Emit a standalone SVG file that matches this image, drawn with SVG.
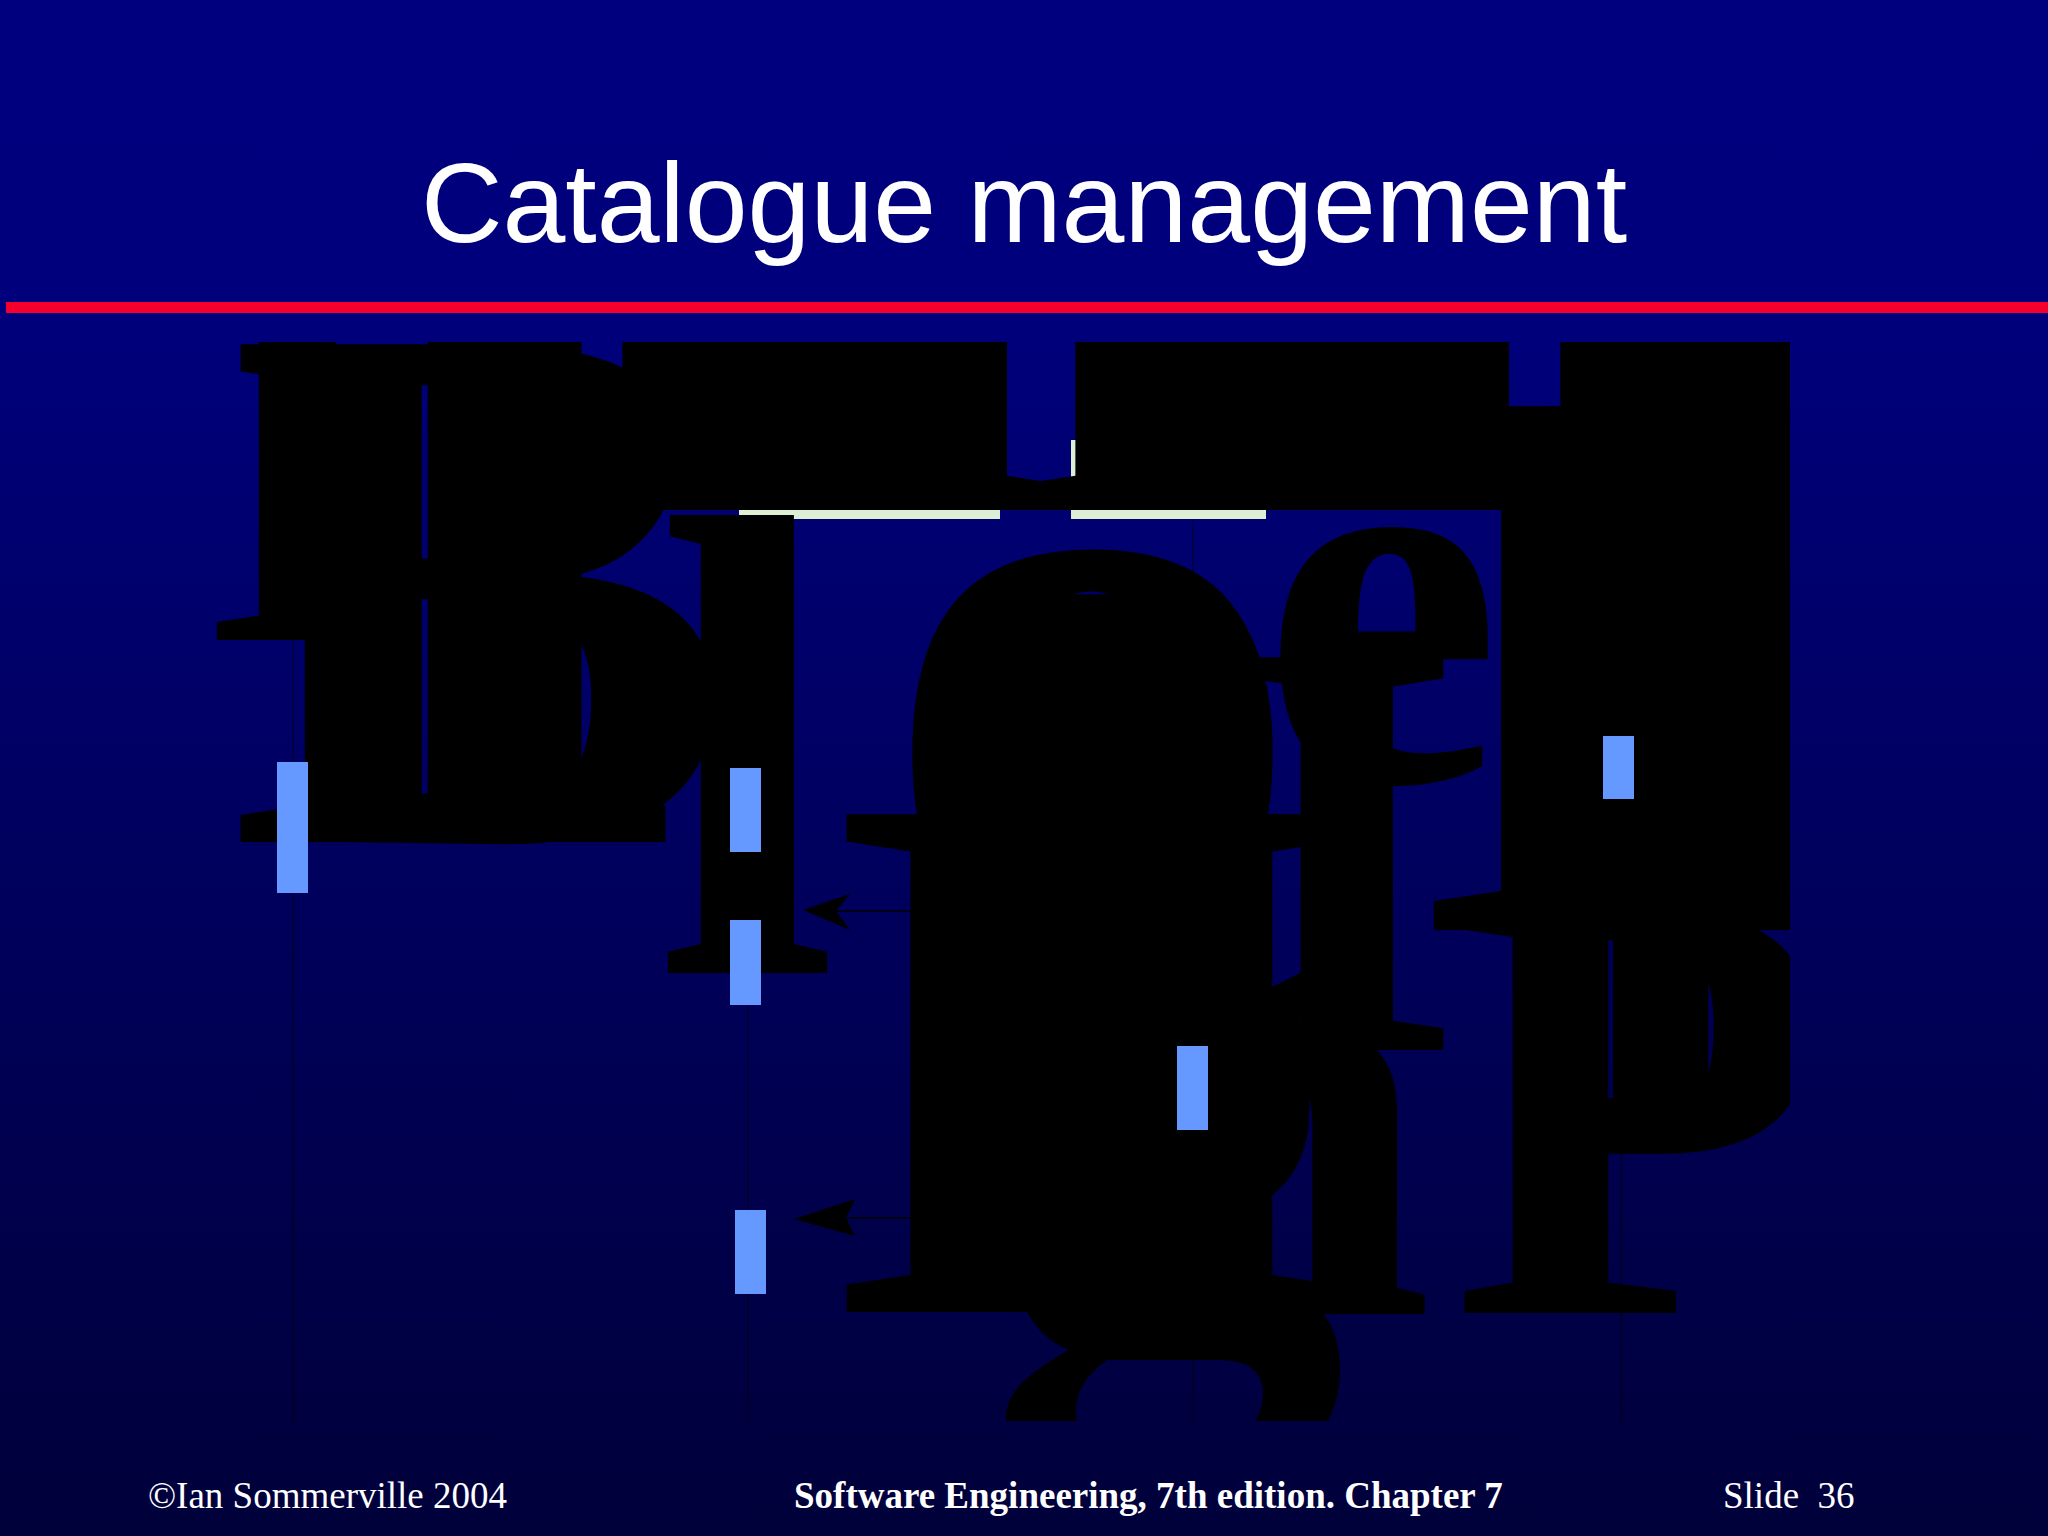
<svg xmlns="http://www.w3.org/2000/svg" width="2048" height="1536" viewBox="0 0 2048 1536">
<defs>
<linearGradient id="bg" x1="0" y1="0" x2="0" y2="1">
<stop offset="0" stop-color="#00007F"/>
<stop offset="0.2" stop-color="#00007C"/>
<stop offset="1" stop-color="#00003A"/>
</linearGradient>
<clipPath id="area"><rect x="215" y="342" width="1575" height="1079"/></clipPath>
<style>
.title{font-family:"Liberation Sans",Arial,sans-serif;font-size:113px;fill:#fff}
.foot{font-family:"Liberation Serif","Times New Roman",serif;font-size:37px;fill:#fff}
.big{font-family:"Liberation Serif","Times New Roman",serif;font-weight:bold;fill:#000}
.bar{fill:#6699FF}
.obj{fill:#DDF0D6}
.life{stroke:#000;stroke-width:1;fill:none;opacity:0.7}
.msg{stroke:#000;stroke-width:1.5;fill:none}
.head{fill:#000}
</style>
</defs>
<rect width="2048" height="1536" fill="url(#bg)"/>
<g id="title"><text class="title" x="1024" y="242" text-anchor="middle">Catalogue management</text></g>
<rect id="rule" x="6" y="302" width="2042" height="11" fill="#F5002E"/>
<g id="objects">
<rect id="obj1" class="obj" x="739" y="440" width="261" height="79"/>
<rect id="obj2" class="obj" x="1071" y="440" width="195" height="79"/>
</g>
<g id="lifelines">
<line class="life" x1="293" y1="520" x2="293" y2="1421"/>
<line class="life" x1="748" y1="520" x2="748" y2="1421"/>
<line class="life" x1="1193" y1="520" x2="1193" y2="1421"/>
<line class="life" x1="1621" y1="520" x2="1621" y2="1421"/>
</g>
<g id="labels" clip-path="url(#area)">
<text class="big" x="200" y="640" font-size="500">I</text>
<text class="big" x="228" y="842" font-size="760">B</text>
<text class="big" x="310" y="842" font-size="1000">I</text>
<text class="big" x="655" y="973" font-size="660">l</text>
<text class="big" y="510" font-size="700" x="540 623 720 817 993 1090 1187 1284 1319 1478 1575 1672">IIIIIIIIIIII</text>
<text class="big" x="880" y="950" font-size="850">o</text>
<text class="big" y="935" font-size="520" x="960 1030">II</text>
<text class="big" y="1312" font-size="760" x="821 916 1011 1066">IIII</text>
<text class="big" x="987" y="1335" font-size="720">g</text>
<text class="big" x="1262" y="781" font-size="540">e</text>
<text class="big" x="1230" y="1050" font-size="600">I</text>
<text class="big" y="930" font-size="800" x="1407 1520 1600">III</text>
<text class="big" x="1100" y="1314" font-size="600">n</text>
<text class="big" x="1450" y="1313" font-size="620">P</text>
<text class="big" x="1540" y="1128" font-size="620">I</text>
</g>
<g id="activations">
<rect class="bar" x="1603" y="736" width="31" height="63"/>
<rect class="bar" x="277" y="762" width="31" height="131"/>
<rect class="bar" x="730" y="768" width="31" height="84"/>
<rect class="bar" x="730" y="920" width="31" height="85"/>
<rect class="bar" x="735" y="1210" width="31" height="84"/>
<rect class="bar" x="1177" y="1046" width="31" height="84"/>
</g>
<g id="connectors">
<line class="msg" x1="836" y1="911" x2="1177" y2="911"/>
<path class="head" d="M803,910 L850,894 L836,911 L850,930 Z"/>
<line class="msg" x1="846" y1="1218" x2="1177" y2="1218"/>
<path class="head" d="M794,1219 L855,1199 L846,1218 L855,1236 Z"/>
</g>
<g id="footer">
<text class="foot" x="148" y="1508">©Ian Sommerville 2004</text>
<text class="foot" x="794" y="1508" font-weight="bold">Software Engineering, 7th edition. Chapter 7</text>
<text class="foot" x="1723" y="1508" xml:space="preserve">Slide  36</text>
</g>
</svg>
